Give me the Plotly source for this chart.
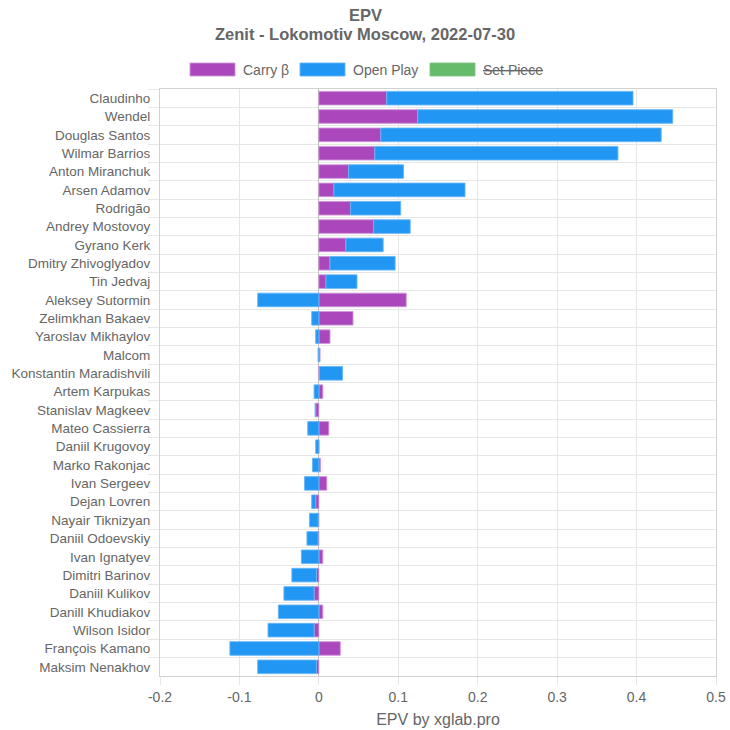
import plotly.graph_objects as go

players = ["Claudinho", "Wendel", "Douglas Santos", "Wilmar Barrios", "Anton Miranchuk",
           "Arsen Adamov", "Rodrigão", "Andrey Mostovoy", "Gyrano Kerk", "Dmitry Zhivoglyadov",
           "Tin Jedvaj", "Aleksey Sutormin", "Zelimkhan Bakaev", "Yaroslav Mikhaylov", "Malcom",
           "Konstantin Maradishvili", "Artem Karpukas", "Stanislav Magkeev", "Mateo Cassierra",
           "Daniil Krugovoy", "Marko Rakonjac", "Ivan Sergeev", "Dejan Lovren", "Nayair Tiknizyan",
           "Daniil Odoevskiy", "Ivan Ignatyev", "Dimitri Barinov", "Daniil Kulikov",
           "Danill Khudiakov", "Wilson Isidor", "François Kamano", "Maksim Nenakhov"]

carry = [0.0855, 0.1245, 0.078, 0.0705, 0.0375, 0.019, 0.040, 0.069, 0.034, 0.014,
         0.009, 0.110, 0.043, 0.014, 0.0015, 0.0008, 0.005, -0.004, 0.0125,
         0.0, 0.002, 0.010, -0.004, -0.0008, -0.001, 0.005, -0.003, -0.006,
         0.005, -0.006, 0.027, -0.003]

open_play = [0.310, 0.321, 0.353, 0.306, 0.069, 0.165, 0.063, 0.046, 0.047, 0.082,
             0.039, -0.077, -0.009, -0.004, -0.001, 0.029, -0.006, -0.0008, -0.014,
             -0.004, -0.008, -0.018, -0.005, -0.011, -0.014, -0.022, -0.031, -0.038,
             -0.051, -0.058, -0.112, -0.074]

series_names = ["Carry β", "Open Play", "Set Piece"]
series_colors = ["#ab47bc", "#2196f3", "#66bb6a"]
series_borders = ["rgba(206,147,216,0.9)", "rgba(100,181,246,0.9)", "rgba(129,199,132,0.9)"]

x_ticks = [-0.2, -0.1, 0, 0.1, 0.2, 0.3, 0.4, 0.5]
x_ticktext = ["-0.2", "-0.1", "0", "0.1", "0.2", "0.3", "0.4", "0.5"]

FONT = "Liberation Sans, Arial, Helvetica, sans-serif"
TXT = "#666666"
GRID = "#e6e6e6"
AXIS = "#d2d2d2"

W, H = 730, 730
L, R, T, B = 160, 14, 89, 54
pw, ph = W - L - R, H - T - B


def px_x(p):
    return (p - L) / pw


def px_y(p):
    return (H - B - p) / ph


fig = go.Figure()
for vals, name, col, bcol in [(carry, series_names[0], series_colors[0], series_borders[0]),
                              (open_play, series_names[1], series_colors[1], series_borders[1])]:
    fig.add_trace(go.Bar(
        y=players, x=vals, orientation="h", name=name,
        marker=dict(color=col, line=dict(color=bcol, width=1)),
        showlegend=False,
    ))

fig.update_layout(
    width=W, height=H,
    margin=dict(l=L, r=R, t=T, b=B, autoexpand=False),
    barmode="relative",
    bargap=0.26,
    plot_bgcolor="white", paper_bgcolor="white",
    font=dict(family=FONT, color=TXT, size=12),
    xaxis=dict(
        range=[-0.2, 0.5], tickvals=x_ticks, ticktext=x_ticktext,
        showgrid=True, gridcolor=GRID, gridwidth=1,
        zeroline=True, zerolinecolor="#c0c0c0", zerolinewidth=1,
        showline=True, linecolor=AXIS, mirror=True,
        ticks="outside", ticklen=8, tickcolor=GRID,
        tickfont=dict(size=14, color=TXT),
        title=dict(text="EPV by xglab.pro", font=dict(size=16, color=TXT), standoff=10),
        automargin=False,
        fixedrange=True,
    ),
    yaxis=dict(
        autorange="reversed", type="category",
        tickson="boundaries",
        showgrid=True, gridcolor=GRID, gridwidth=1,
        zeroline=False,
        showline=True, linecolor=AXIS, mirror=True,
        ticks="outside", ticklen=11, tickcolor=GRID,
        ticklabelstandoff=6,
        tickfont=dict(size=13.5, color=TXT),
        automargin=False,
        fixedrange=True,
    ),
)

# Titles
fig.add_annotation(text="<b>EPV</b>", xref="paper", yref="paper", x=px_x(365), y=px_y(15),
                   showarrow=False, font=dict(size=16.5, color=TXT, family=FONT),
                   xanchor="center", yanchor="middle")
fig.add_annotation(text="<b>Zenit - Lokomotiv Moscow, 2022-07-30</b>", xref="paper", yref="paper",
                   x=px_x(365), y=px_y(34), showarrow=False,
                   font=dict(size=16.5, color=TXT, family=FONT), xanchor="center", yanchor="middle")

# Legend (Chart.js style boxes)
legend_items = [(series_names[0], 190, series_colors[0], series_borders[0], False),
                (series_names[1], 300, series_colors[1], series_borders[1], False),
                (series_names[2], 430, series_colors[2], series_borders[2], True)]
for name, bx, col, bcol, hidden in legend_items:
    fig.add_shape(type="rect", xref="paper", yref="paper",
                  x0=px_x(bx), x1=px_x(bx + 45), y0=px_y(76), y1=px_y(63),
                  fillcolor=col, line=dict(color=bcol, width=1), layer="above")
    label = f"<s>{name}</s>" if hidden else name
    fig.add_annotation(text=label, xref="paper", yref="paper", x=px_x(bx + 51), y=px_y(70),
                       showarrow=False, xanchor="left", yanchor="middle",
                       font=dict(size=14, color=TXT, family=FONT))

fig.write_html("out.html", config={"displayModeBar": False},
               post_script="document.body.style.margin='0';")
